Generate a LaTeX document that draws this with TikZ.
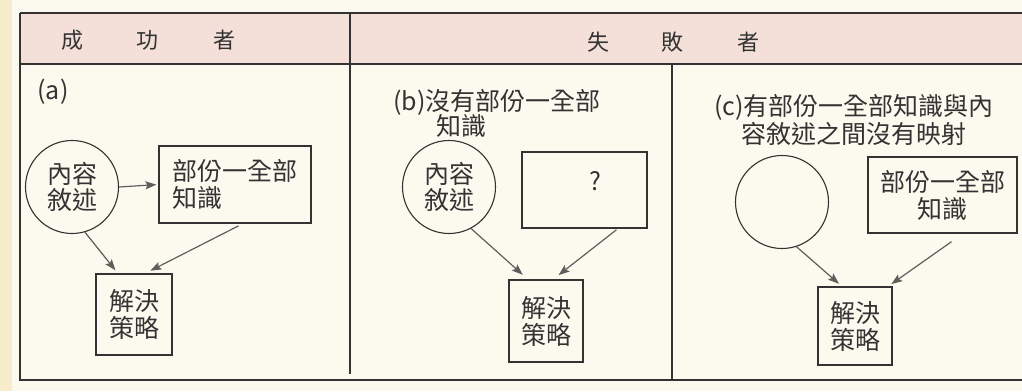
\documentclass[tikz,border=0pt]{standalone}
\usepackage{fontspec}
\setmainfont{Noto Sans CJK TC}
\usetikzlibrary{arrows.meta}
\definecolor{paper}{HTML}{FCF9EE}
\definecolor{edgey}{HTML}{F8EDCB}
\definecolor{hdr}{HTML}{F4E0D8}
\definecolor{ink}{HTML}{333333}
\definecolor{arrowc}{HTML}{5E5E5E}
\begin{document}
\begin{tikzpicture}[x=1pt,y=-1pt,
  tline/.style={draw=ink,line width=1.1pt},
  txt/.style={font=\fontsize{25}{25.5}\selectfont,text=ink,inner sep=0pt},
  hdtxt/.style={font=\fontsize{22}{24}\selectfont,text=ink,inner sep=0pt},
  circ/.style={draw=ink,line width=1.1pt,circle,minimum size=93pt,inner sep=0pt,font=\fontsize{25}{26}\selectfont,text=ink,align=center},
  boxn/.style={draw=ink,line width=1.1pt,rectangle,inner sep=0pt,font=\fontsize{25}{27}\selectfont,text=ink},
  arr/.style={draw=arrowc,line width=1.2pt,-{Stealth[length=11pt,width=8pt,inset=2pt]}}
]
\fill[paper] (0,0) rectangle (1022,391);
\useasboundingbox (0,0) rectangle (1022,391);
\fill[edgey] (0,0) rectangle (12,391);
\fill[hdr] (20,13) rectangle (1022,64);
% table lines
\draw[tline] (20,13) -- (1022,13);
\draw[tline] (20,64) -- (1022,64);
\draw[tline] (20,13) -- (20,380) -- (1022,380);
\draw[tline] (350,13) -- (350,374);
\draw[tline] (672,64) -- (672,380);
% header
\node[hdtxt] (h1) at (72,40) {成};
\node[hdtxt] (h2) at (147,40) {功};
\node[hdtxt] (h3) at (224,40) {者};
\node[hdtxt] (h4) at (598,42) {失};
\node[hdtxt] (h5) at (672,42) {敗};
\node[hdtxt] (h6) at (748,42) {者};
% panel a
\node[txt] (la) at (53,92) {(a)};
\node[circ] (cA) at (72,187) {內容\\敘述};
\node[boxn,minimum width=152pt,minimum height=77pt,align=left] (kA) at (235,184.5) {部份一全部\\知識};
\node[boxn,minimum width=76pt,minimum height=81pt,align=center] (sA) at (134,314.5) {解決\\策略};
\draw[arr,shorten >=2pt] (cA.east) -- (kA.west);
\draw[arr,shorten >=4pt] (cA.-74) -- ([xshift=-16pt]sA.north);
\draw[arr,shorten >=6pt,shorten <=5pt] ([xshift=8pt]kA.south) -- ([xshift=11pt]sA.north);
% panel b
\node[txt,anchor=west] (lb1) at (393,102) {(b)沒有部份一全部};
\node[txt,anchor=west] (lb2) at (436,126) {知識};
\node[circ] (cB) at (449,187) {內容\\敘述};
\node[boxn,minimum width=125pt,minimum height=76pt] (kB) at (584.5,190) {};
\node[txt] (qB) at (595,181) {?};
\node[boxn,minimum width=74pt,minimum height=82pt,align=center] (sB) at (546,321) {解決\\策略};
\draw[arr,shorten >=7pt] (cB.-62) -- ([xshift=-18pt]sB.north);
\draw[arr,shorten >=7pt,shorten <=2pt] ([xshift=33.5pt]kB.south) -- ([xshift=7pt]sB.north);
% panel c
\node[txt,align=center] (lc) at (854,120) {(c)有部份一全部知識與內\\容敘述之間沒有映射};
\node[circ] (cC) at (782,202) {};
\node[boxn,minimum width=149pt,minimum height=76pt,align=center] (kC) at (942.5,195) {部份一全部\\知識};
\node[boxn,minimum width=74pt,minimum height=78pt,align=center] (sC) at (855,326) {解決\\策略};
\draw[arr,shorten >=4pt] (cC.-72) -- ([xshift=-13pt]sC.north);
\draw[arr,shorten >=4pt,shorten <=14pt] ([xshift=20.5pt]kC.south) -- ([xshift=33pt]sC.north);
\end{tikzpicture}
\end{document}
